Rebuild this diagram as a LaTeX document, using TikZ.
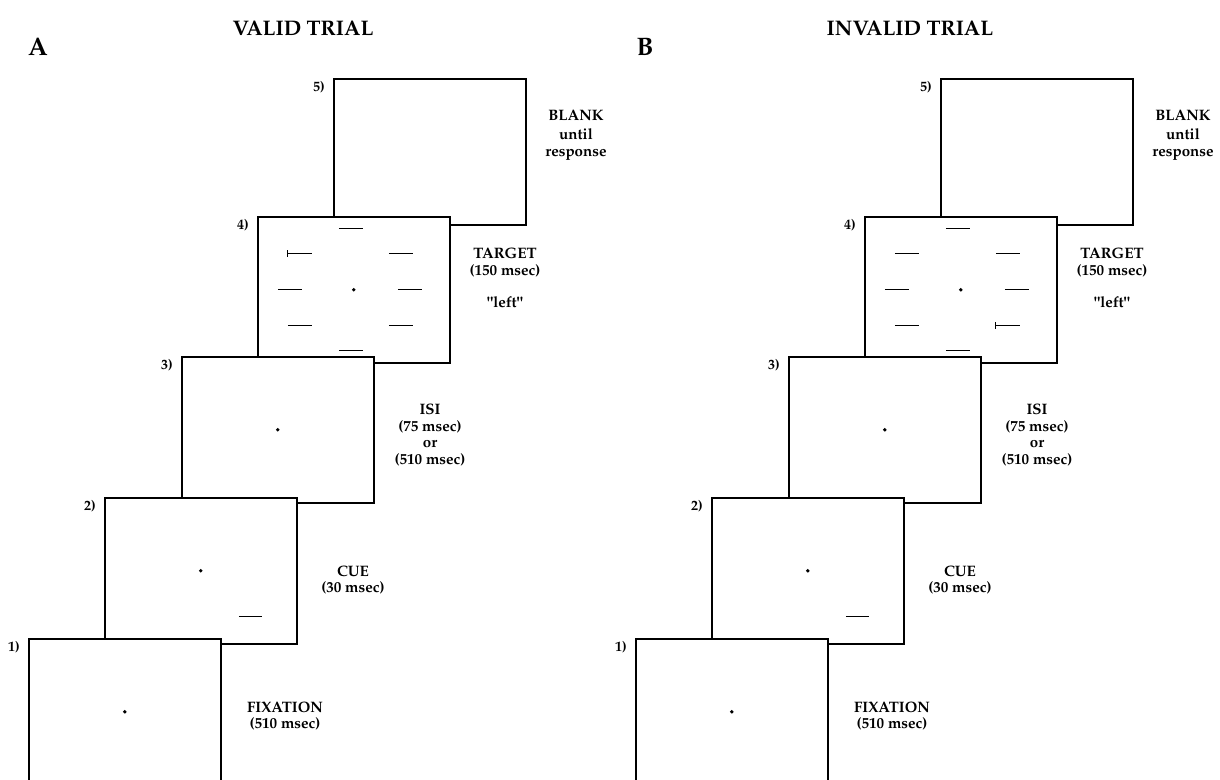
\documentclass[tikz,border=0pt]{standalone}
\usepackage[T1]{fontenc}
\usepackage{mathpazo}
\usetikzlibrary{calc}

\tikzset{
  screen/.style={draw, fill=white, line width=0.9pt, minimum width=3.84cm,
    minimum height=2.92cm, inner sep=0pt, anchor=north west},
  steplabel/.style={font=\bfseries\footnotesize, anchor=east},
  info/.style={font=\bfseries\fontsize{8.6}{9.6}\selectfont, align=center},
  bar/.style={line width=0.75pt}
}

\begin{document}
\begin{tikzpicture}[x=0.02cm, y=-0.02cm]
\useasboundingbox (0,0) rectangle (1220,779);

% one panel per trial type: name / shift / title / tick position
\foreach \pn/\dx/\ttl/\tx/\ty in {A/0/VALID TRIAL/-54/-36, B/607/INVALID TRIAL/47/36} {
\begin{scope}[shift={(\dx,0)}]
\node [font=\bfseries\large] (\pn title) at (303,28) {\ttl};
\node [font=\bfseries\Large] (\pn tag) at (38,47) {\pn};

% screens, last one first
\node [screen] (\pn5) at (333,78) {};
\node [screen] (\pn4) at (257,216) {};
\node [screen] (\pn3) at (181,356) {};
\node [screen] (\pn2) at (104,497) {};
\node [screen] (\pn1) at (28,638) {};
\foreach \k in {1,...,5}
  \node [steplabel] (\pn lab\k) at ($(\pn\k.north west)+(-2,9)$) {\k)};

% fixation points
\foreach \k in {1,...,4}
  \fill (\pn\k.center) circle (1.1pt);

% cue
\draw [bar] ($(\pn2.center)+(38,46)$) -- ++(23,0);

% target display
\foreach \u/\v in {-3/-61, -54/-36, 47/-36, -64/0, 56/0, -54/36, 47/36, -3/61}
  \draw [bar] ($(\pn4.center)+(\u-12,\v)$) -- ++(24,0);
\draw [bar] ($(\pn4.center)+(\tx-12,\ty-3.5)$) -- ++(0,7);

% timing labels
\node [info] (\pn fix) at (285,716) {FIXATION\\(510 msec)};
\node [info] (\pn cue) at (353,580) {CUE\\(30 msec)};
\node [info] (\pn isi) at (430,435) {ISI\\(75 msec)\\or\\(510 msec)};
\node [info] (\pn tgt) at (505,278) {TARGET\\(150 msec)\\[9pt]\textquotedbl left\textquotedbl};
\node [info] (\pn blank) at (576,135) {BLANK\\[1pt]until\\response};
\end{scope}
}
\end{tikzpicture}
\end{document}
